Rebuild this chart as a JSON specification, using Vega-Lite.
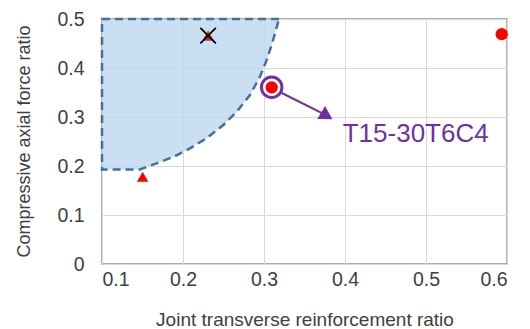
{
  "$schema": "https://vega.github.io/schema/vega-lite/v6.json",
  "autosize": {"type": "none"},
  "padding": {"left": 102, "top": 19, "right": 23, "bottom": 65},
  "width": 405,
  "height": 245,
  "background": "white",
  "config": {
    "view": {"stroke": "#595959", "strokeWidth": 1.3},
    "font": "Liberation Sans"
  },
  "datasets": {
    "zone": [
      {"x": 0.1, "y": 0.193, "k": 0},
      {"x": 0.147, "y": 0.193, "k": 1},
      {"x": 0.1675, "y": 0.2055, "k": 2},
      {"x": 0.19, "y": 0.22, "k": 3},
      {"x": 0.2086, "y": 0.236, "k": 4},
      {"x": 0.229, "y": 0.2565, "k": 5},
      {"x": 0.2498, "y": 0.2837, "k": 6},
      {"x": 0.2663, "y": 0.3108, "k": 7},
      {"x": 0.2827, "y": 0.3449, "k": 8},
      {"x": 0.295, "y": 0.3822, "k": 9},
      {"x": 0.3033, "y": 0.4163, "k": 10},
      {"x": 0.3107, "y": 0.4537, "k": 11},
      {"x": 0.3185, "y": 0.5, "k": 12}
    ],
    "outline": [
      {"x": 0.3185, "y": 0.5, "k": 0},
      {"x": 0.1, "y": 0.5, "k": 1},
      {"x": 0.1, "y": 0.193, "k": 2},
      {"x": 0.147, "y": 0.193, "k": 3},
      {"x": 0.1675, "y": 0.2055, "k": 4},
      {"x": 0.19, "y": 0.22, "k": 5},
      {"x": 0.2086, "y": 0.236, "k": 6},
      {"x": 0.229, "y": 0.2565, "k": 7},
      {"x": 0.2498, "y": 0.2837, "k": 8},
      {"x": 0.2663, "y": 0.3108, "k": 9},
      {"x": 0.2827, "y": 0.3449, "k": 10},
      {"x": 0.295, "y": 0.3822, "k": 11},
      {"x": 0.3033, "y": 0.4163, "k": 12},
      {"x": 0.3107, "y": 0.4537, "k": 13},
      {"x": 0.3185, "y": 0.5, "k": 14}
    ],
    "circles": [
      {"x": 0.3095, "y": 0.3606},
      {"x": 0.5935, "y": 0.469}
    ],
    "triangles": [
      {"x": 0.1502, "y": 0.178}
    ],
    "crossed": [
      {"x": 0.231, "y": 0.466}
    ],
    "highlight": [
      {"x": 0.3095, "y": 0.3606}
    ],
    "arrow": [
      {"x": 0.322, "y": 0.349, "k": 0},
      {"x": 0.371, "y": 0.3085, "k": 1}
    ],
    "head": [
      {"x": 0.3775, "y": 0.3025}
    ],
    "label": [
      {"x": 0.3972, "y": 0.2496, "text": "T15-30T6C4"}
    ]
  },
  "layer": [
    {
      "data": {"name": "zone"},
      "mark": {"type": "area", "color": "#BDD7EE", "opacity": 0.8, "clip": true},
      "encoding": {
        "x": {
          "field": "x", "type": "quantitative",
          "scale": {"domain": [0.1, 0.6], "nice": false, "zero": false},
          "axis": {
            "title": "Joint transverse reinforcement ratio",
            "values": [0.1, 0.2, 0.3, 0.4, 0.5, 0.6],
            "format": ".1f",
            "grid": true, "gridColor": "#D9D9D9", "gridWidth": 1,
            "domain": false, "ticks": false,
            "labelFontSize": 19.5, "labelColor": "#404040", "labelPadding": 6,
            "titleFontSize": 19, "titleFontWeight": "normal", "titleColor": "#404040",
            "titleY": 61, "titleBaseline": "alphabetic"
          }
        },
        "y": {
          "field": "y", "type": "quantitative",
          "scale": {"domain": [0, 0.5], "nice": false},
          "axis": {
            "title": "Compressive axial force ratio",
            "values": [0, 0.1, 0.2, 0.3, 0.4, 0.5],
            "labelExpr": "datum.value == 0 ? '0' : format(datum.value, '.1f')",
            "grid": true, "gridColor": "#D9D9D9", "gridWidth": 1,
            "domain": false, "ticks": false,
            "labelFontSize": 19.5, "labelColor": "#404040", "labelPadding": 18,
            "titleFontSize": 18, "titleFontWeight": "normal", "titleColor": "#404040",
            "titleX": -73, "titleY": 122, "titleAngle": -90,
            "titleAlign": "center", "titleBaseline": "alphabetic"
          }
        },
        "y2": {"datum": 0.5}
      }
    },
    {
      "data": {"name": "outline"},
      "mark": {"type": "line", "color": "#41719C", "strokeWidth": 2.5, "strokeDash": [8, 5], "clip": false},
      "encoding": {
        "x": {"field": "x", "type": "quantitative"},
        "y": {"field": "y", "type": "quantitative"},
        "order": {"field": "k", "type": "quantitative"}
      }
    },
    {
      "data": {"name": "triangles"},
      "mark": {"type": "point", "shape": "triangle-up", "filled": true, "color": "#FF0000", "size": 130, "opacity": 1},
      "encoding": {
        "x": {"field": "x", "type": "quantitative"},
        "y": {"field": "y", "type": "quantitative"}
      }
    },
    {
      "data": {"name": "crossed"},
      "mark": {"type": "point", "shape": "triangle-up", "filled": true, "color": "#D42A38", "size": 140, "opacity": 1},
      "encoding": {
        "x": {"field": "x", "type": "quantitative"},
        "y": {"field": "y", "type": "quantitative"}
      }
    },
    {
      "data": {"name": "crossed"},
      "mark": {"type": "point", "shape": "M-1,-1L1,1M1,-1L-1,1", "filled": false, "color": "#000000", "strokeWidth": 1.8, "size": 240, "opacity": 1},
      "encoding": {
        "x": {"field": "x", "type": "quantitative"},
        "y": {"field": "y", "type": "quantitative"}
      }
    },
    {
      "data": {"name": "arrow"},
      "mark": {"type": "line", "color": "#7030A0", "strokeWidth": 2},
      "encoding": {
        "x": {"field": "x", "type": "quantitative"},
        "y": {"field": "y", "type": "quantitative"},
        "order": {"field": "k", "type": "quantitative"}
      }
    },
    {
      "data": {"name": "head"},
      "mark": {"type": "point", "shape": "triangle-right", "filled": true, "color": "#7030A0", "size": 230, "angle": 31, "opacity": 1},
      "encoding": {
        "x": {"field": "x", "type": "quantitative"},
        "y": {"field": "y", "type": "quantitative"}
      }
    },
    {
      "data": {"name": "highlight"},
      "mark": {"type": "point", "shape": "circle", "filled": false, "fill": "white", "fillOpacity": 1, "color": "#7030A0", "strokeWidth": 3, "size": 420, "opacity": 1},
      "encoding": {
        "x": {"field": "x", "type": "quantitative"},
        "y": {"field": "y", "type": "quantitative"}
      }
    },
    {
      "data": {"name": "circles"},
      "mark": {"type": "point", "shape": "circle", "filled": true, "color": "#FF0000", "size": 150, "opacity": 1},
      "encoding": {
        "x": {"field": "x", "type": "quantitative"},
        "y": {"field": "y", "type": "quantitative"}
      }
    },
    {
      "data": {"name": "label"},
      "mark": {"type": "text", "align": "left", "baseline": "alphabetic", "fontSize": 26, "color": "#7030A0", "font": "Liberation Sans"},
      "encoding": {
        "x": {"field": "x", "type": "quantitative"},
        "y": {"field": "y", "type": "quantitative"},
        "text": {"field": "text"}
      }
    }
  ]
}
